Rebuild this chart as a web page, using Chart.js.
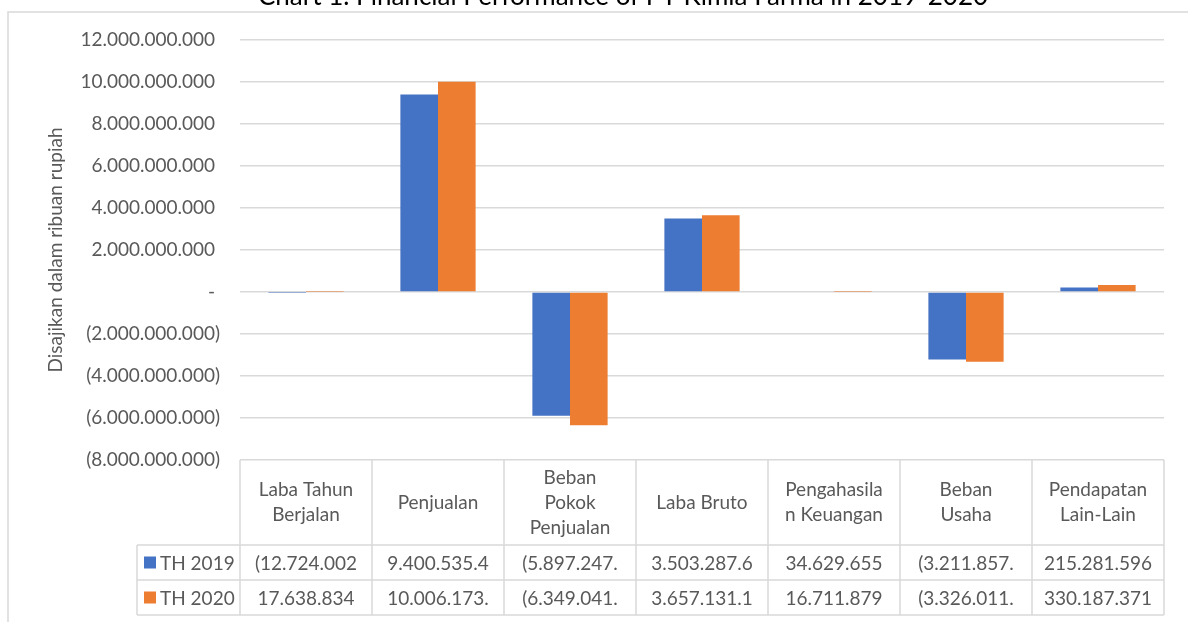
<!DOCTYPE html>
<html>
<head>
<meta charset="utf-8">
<script src="https://cdn.jsdelivr.net/npm/chart.js@4.4.1/dist/chart.umd.min.js"></script>
<style>
  html, body { margin: 0; padding: 0; background: #fff; overflow: hidden; }
  #wrap { position: relative; width: 1188px; height: 622px; }
</style>
</head>
<body>
<div id="wrap"><canvas id="chart" width="1188" height="622"></canvas></div>
<script>
const chartTitle = 'Chart 1. Financial Performance of PT Kimia Farma in 2019-2020';
const axisTitle = 'Disajikan dalam ribuan rupiah';
const categories = [
    ['Laba Tahun', 'Berjalan'],
    ['Penjualan'],
    ['Beban', 'Pokok', 'Penjualan'],
    ['Laba Bruto'],
    ['Pengahasila', 'n Keuangan'],
    ['Beban', 'Usaha'],
    ['Pendapatan', 'Lain-Lain']
];
const seriesNames = ['TH 2019', 'TH 2020'];
const seriesColors = ['#4472C4', '#ED7D31'];
const values2019 = [-12724002, 9400535476, -5897247857, 3503287619, 34629655, -3211857472, 215281596];
const values2020 = [17638834, 10006173023, -6349041920, 3657131103, 16711879, -3326011312, 330187371];
// cell text as it shows in the data table (cut off by the column width)
const cells2019 = ['(12.724.002', '9.400.535.4', '(5.897.247.', '3.503.287.6', '34.629.655', '(3.211.857.', '215.281.596'];
const cells2020 = ['17.638.834', '10.006.173.', '(6.349.041.', '3.657.131.1', '16.711.879', '(3.326.011.', '330.187.371'];
const yMin = -8000000000;
const yMax = 12000000000;
const yStep = 2000000000;

const FONT = 'Lato';
const TEXT = '#595959';
const LINE = '#d9d9d9';

function formatRibuan(v) {
    if (v === 0) return '- ';
    const s = Math.abs(v).toFixed(0).replace(/\B(?=(\d{3})+(?!\d))/g, '.');
    return v < 0 ? '(' + s + ')' : s + ' ';
}

const tablePlugin = {
    id: 'dataTable',
    afterDraw(chart) {
        const { ctx, chartArea } = chart;
        const n = categories.length;
        const colW = (chartArea.right - chartArea.left) / n;
        const top = chartArea.bottom;
        const headBottom = top + 85;
        const rowH = 35;
        const legendLeft = 137;
        const rows = [cells2019, cells2020];

        ctx.save();

        // outer chart frame (left + top only are in view)
        ctx.strokeStyle = LINE;
        ctx.lineWidth = 1.5;
        ctx.beginPath();
        ctx.moveTo(8, 622);
        ctx.lineTo(8, 12);
        ctx.lineTo(1188, 12);
        ctx.stroke();

        // caption above the frame, mostly cut off by the top edge
        ctx.fillStyle = '#000';
        ctx.font = '26px ' + FONT;
        ctx.textAlign = 'center';
        ctx.textBaseline = 'alphabetic';
        ctx.fillText(chartTitle, 623, 5);

        // table grid
        ctx.strokeStyle = LINE;
        ctx.lineWidth = 1.5;
        ctx.beginPath();
        for (let i = 0; i <= n; i++) {
            const x = chartArea.left + colW * i;
            ctx.moveTo(x, top);
            ctx.lineTo(x, headBottom + rowH * 2);
        }
        ctx.moveTo(legendLeft, headBottom);
        ctx.lineTo(legendLeft, headBottom + rowH * 2);
        for (let r = 0; r <= 2; r++) {
            ctx.moveTo(legendLeft, headBottom + rowH * r);
            ctx.lineTo(chartArea.right, headBottom + rowH * r);
        }
        ctx.stroke();

        ctx.fillStyle = TEXT;
        ctx.font = '19px ' + FONT;
        ctx.textAlign = 'center';
        ctx.textBaseline = 'middle';

        // header: category names
        categories.forEach((lines, i) => {
            const cx = chartArea.left + colW * (i + 0.5);
            const cy = (top + headBottom) / 2;
            const lh = 25;
            lines.forEach((line, k) => {
                ctx.fillText(line, cx, cy + (k - (lines.length - 1) / 2) * lh);
            });
        });

        // rows: legend key + values
        rows.forEach((cells, r) => {
            const cy = headBottom + rowH * (r + 0.5);
            ctx.fillStyle = seriesColors[r];
            ctx.fillRect(144, cy - 6, 12, 12);
            ctx.fillStyle = TEXT;
            ctx.textAlign = 'left';
            ctx.fillText(seriesNames[r], 160, cy + 1);
            ctx.textAlign = 'center';
            cells.forEach((txt, i) => {
                ctx.fillText(txt, chartArea.left + colW * (i + 0.5), cy + 1);
            });
        });

        ctx.restore();
    }
};

function drawChart() {
    new Chart(document.getElementById('chart'), {
        type: 'bar',
        data: {
            labels: categories,
            datasets: [
                { label: seriesNames[0], data: values2019, backgroundColor: seriesColors[0] },
                { label: seriesNames[1], data: values2020, backgroundColor: seriesColors[1] }
            ]
        },
        options: {
            responsive: false,
            animation: false,
            layout: { padding: { top: 40, right: 24, bottom: 162, left: 0 } },
            datasets: { bar: { categoryPercentage: 0.57, barPercentage: 1.0, borderWidth: 0 } },
            plugins: {
                legend: { display: false },
                tooltip: { enabled: false }
            },
            scales: {
                x: { display: false },
                y: {
                    min: yMin,
                    max: yMax,
                    afterFit: s => { s.width = 240; },
                    border: { display: false },
                    grid: { color: LINE, lineWidth: 1.5, drawTicks: false },
                    ticks: {
                        stepSize: yStep,
                        padding: 20,
                        color: TEXT,
                        font: { family: FONT, size: 19 },
                        callback: v => formatRibuan(v)
                    },
                    title: {
                        display: true,
                        text: axisTitle,
                        color: TEXT,
                        font: { family: FONT, size: 19 },
                        padding: { top: 44 }
                    }
                }
            }
        },
        plugins: [tablePlugin]
    });
}

document.fonts.load('19px ' + FONT).then(drawChart, drawChart);
</script>
</body>
</html>
